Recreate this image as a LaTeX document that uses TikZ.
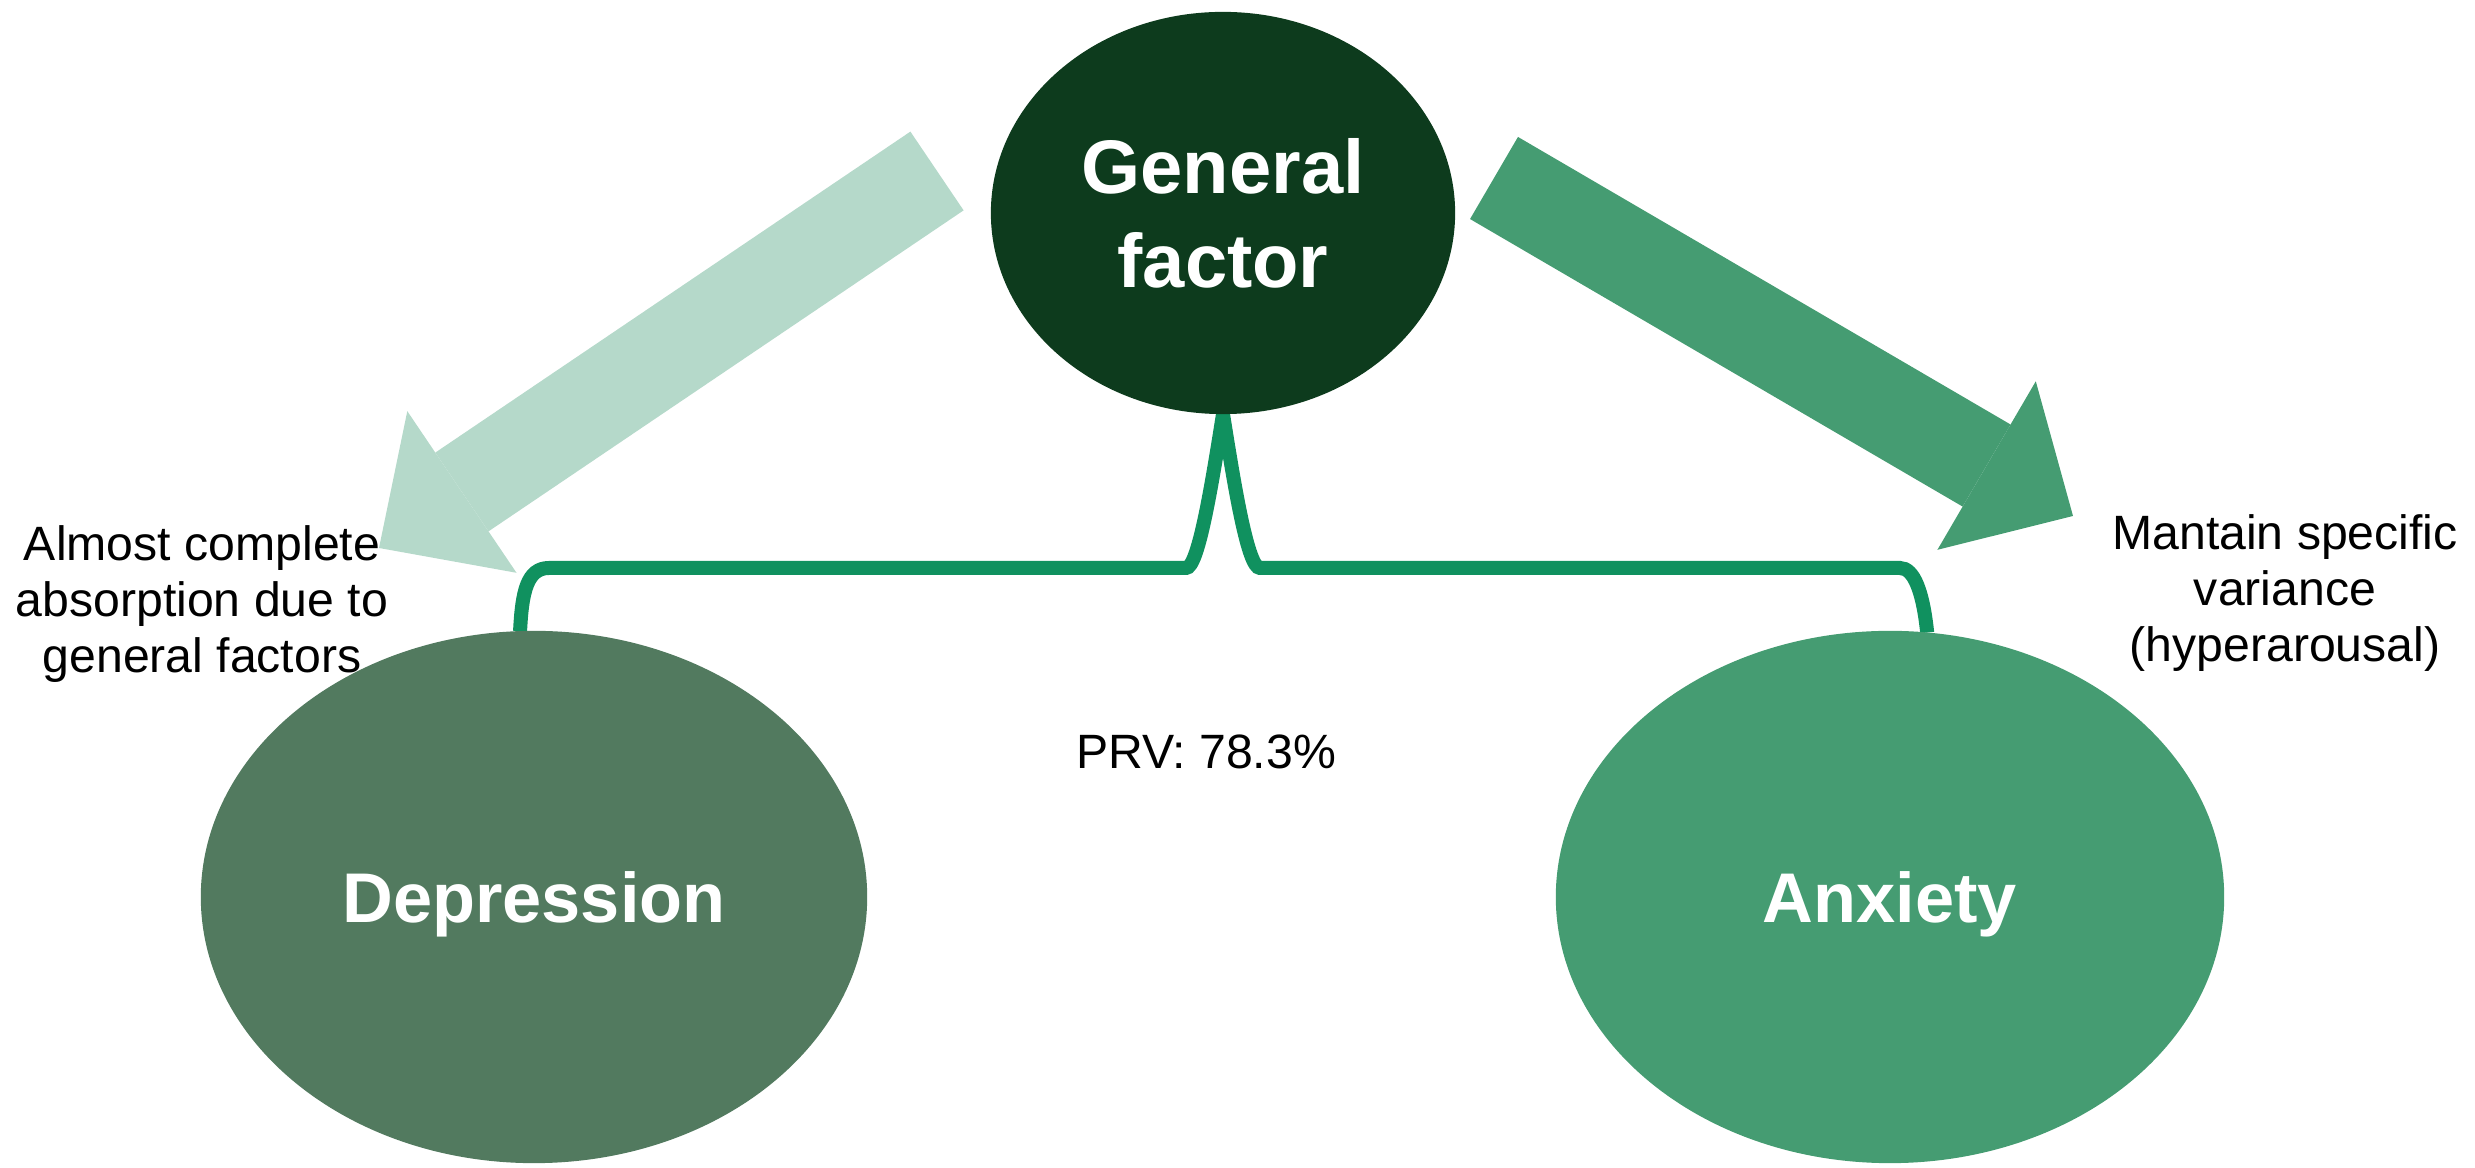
\documentclass[tikz,border=0pt]{standalone}
\usepackage{fontspec}
\setmainfont{Liberation Sans}
\usetikzlibrary{positioning,arrows.meta,shapes.geometric,backgrounds}
\definecolor{gfgreen}{RGB}{13,59,29}
\definecolor{depgreen}{RGB}{82,122,95}
\definecolor{anxgreen}{RGB}{69,156,114}
\definecolor{palegreen}{RGB}{181,217,202}
\definecolor{bracegreen}{RGB}{16,145,95}

\begin{document}
\begin{tikzpicture}[
    x=0.01cm, y=-0.01cm,
    factor/.style={ellipse, inner sep=0pt, outer sep=0pt, text=white, text depth=0pt, font=\bfseries\fontsize{20}{24}\selectfont},
    note/.style={align=center, font=\fontsize{13.7}{15.9}\selectfont},
    bigarrow/.style={line width=0.95cm, -{Triangle[length=1cm, width=1.95cm, line width=0pt]}},
    brace/.style={draw=bracegreen, line width=0.14cm}
]
\useasboundingbox (0,0) rectangle (2475,1168);

% Factors
\node[factor, fill=gfgreen, minimum width=4.64cm, minimum height=4.02cm, align=center,
      font=\bfseries\fontsize{21.6}{26.7}\selectfont] (gf) at (1223,213) {General\\factor};
\node[factor, fill=depgreen, minimum width=6.66cm, minimum height=5.32cm] (dep) at (534,897) {Depression};
\node[factor, fill=anxgreen, minimum width=6.68cm, minimum height=5.32cm] (anx) at (1890,897) {Anxiety};

% Notes
\node[note] (absorb) at (202,604) {Almost complete\\absorption due to\\general factors};
\node[note] (spec) at (2285,593) {Mantain specific\\variance\\(hyperarousal)};
\node[note, anchor=base] (prv) at (1206,769) {PRV: 78.3\%};

% Arrows
\coordinate (ltail) at (937,171);
\coordinate (ltip) at (379,548);
\coordinate (rtail) at (1494,178);
\coordinate (rtip) at (2073,516);
\draw[bigarrow, palegreen] (ltail) -- (ltip);
\draw[bigarrow, anxgreen] (rtail) -- (rtip);

% Brace
\begin{scope}[on background layer]
\draw[brace] (dep.93) .. controls (522,592) and (527,568) .. (549,568) -- (1186,568)
    .. controls (1198,568) and (1211,490) .. (gf.south)
    .. controls (1235,490) and (1248,568) .. (1260,568) -- (1900,568)
    .. controls (1914,568) and (1923,592) .. (anx.82);
\end{scope}
\end{tikzpicture}
\end{document}
